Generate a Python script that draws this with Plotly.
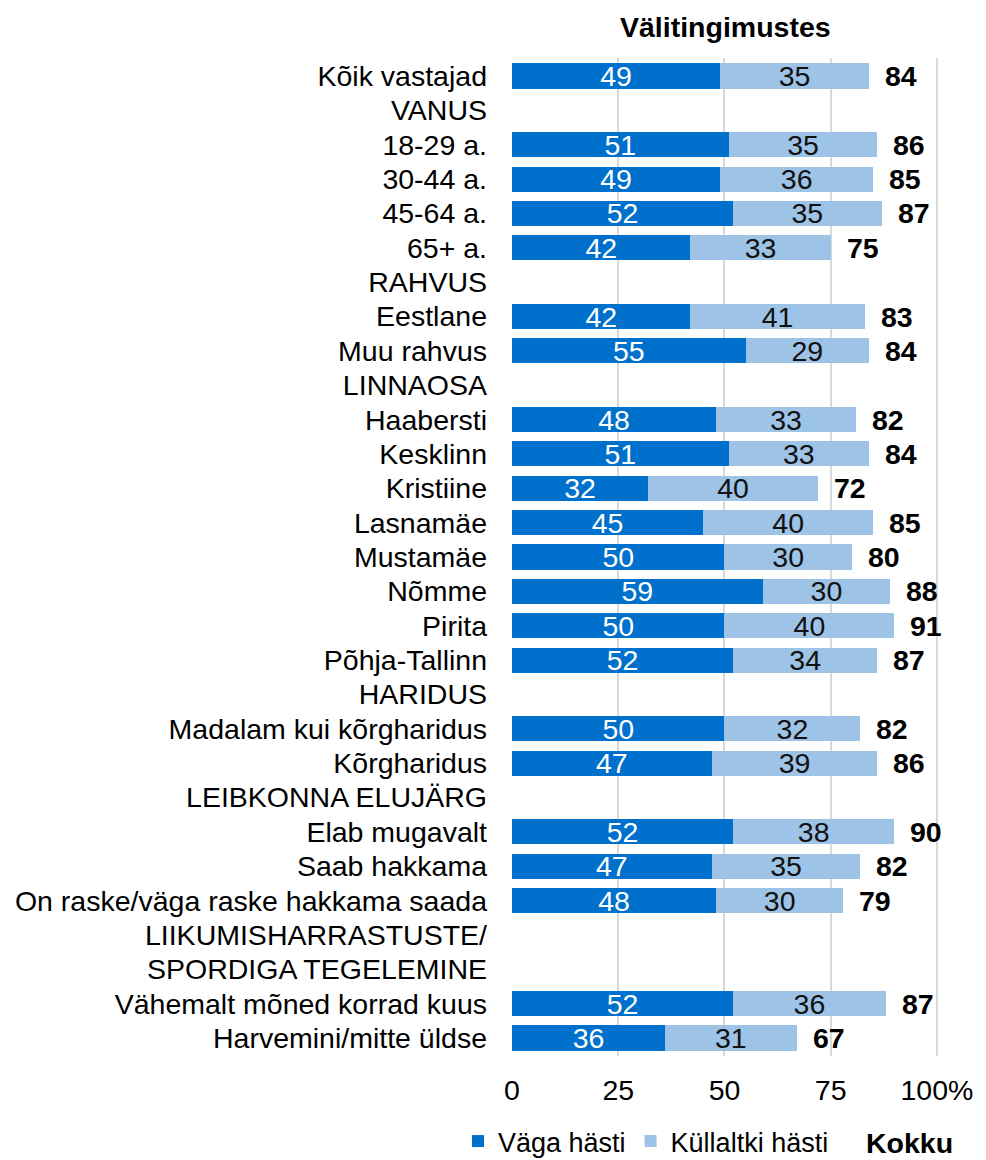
import plotly.graph_objects as go

categories = [
    "Kõik vastajad", "VANUS", "18-29 a.", "30-44 a.", "45-64 a.", "65+ a.",
    "RAHVUS", "Eestlane", "Muu rahvus",
    "LINNAOSA", "Haabersti", "Kesklinn", "Kristiine", "Lasnamäe", "Mustamäe",
    "Nõmme", "Pirita", "Põhja-Tallinn",
    "HARIDUS", "Madalam kui kõrgharidus", "Kõrgharidus",
    "LEIBKONNA ELUJÄRG", "Elab mugavalt", "Saab hakkama",
    "On raske/väga raske hakkama saada",
    "LIIKUMISHARRASTUSTE/", "SPORDIGA TEGELEMINE",
    "Vähemalt mõned korrad kuus", "Harvemini/mitte üldse",
]
vaga_hasti = [49, None, 51, 49, 52, 42, None, 42, 55, None, 48, 51, 32, 45, 50,
              59, 50, 52, None, 50, 47, None, 52, 47, 48, None, None, 52, 36]
kullaltki_hasti = [35, None, 35, 36, 35, 33, None, 41, 29, None, 33, 33, 40, 40, 30,
                   30, 40, 34, None, 32, 39, None, 38, 35, 30, None, None, 36, 31]
kokku = [84, None, 86, 85, 87, 75, None, 83, 84, None, 82, 84, 72, 85, 80,
         88, 91, 87, None, 82, 86, None, 90, 82, 79, None, None, 87, 67]

tick_vals = [0, 25, 50, 75, 100]
tick_text = ["0", "25", "50", "75", "100%"]

DARK = "#0070CD"
LIGHT = "#9DC3E6"
FONT = "Liberation Sans, Arial, sans-serif"
FS = 28.5
LFS = 27

# page body has an 8px margin, so the figure is 8px smaller than the window
OFF = 8
W, H = 986 - OFF, 1160 - OFF
ML, MR, MT, MB = 512 - OFF, 48, 58 - OFF, 104
PW = W - ML - MR
PH = H - MT - MB

fig = go.Figure()
fig.add_trace(go.Bar(
    y=categories, x=vaga_hasti, orientation="h", name="Väga hästi",
    marker=dict(color=DARK, line=dict(width=0)),
    text=[("" if v is None else str(v)) for v in vaga_hasti],
    textposition="inside", insidetextanchor="middle", textangle=0,
    constraintext="none",
    textfont=dict(family=FONT, size=FS, color="white"),
    hoverinfo="skip",
))
fig.add_trace(go.Bar(
    y=categories, x=kullaltki_hasti, orientation="h", name="Küllaltki hästi",
    marker=dict(color=LIGHT, line=dict(width=0)),
    text=[("" if v is None else str(v)) for v in kullaltki_hasti],
    textposition="inside", insidetextanchor="middle", textangle=0,
    constraintext="none",
    textfont=dict(family=FONT, size=FS, color="#111111"),
    hoverinfo="skip",
))

for cat, d, l, t in zip(categories, vaga_hasti, kullaltki_hasti, kokku):
    if t is None:
        continue
    fig.add_annotation(
        x=d + l, y=cat, xref="x", yref="y", text=f"<b>{t}</b>",
        showarrow=False, xanchor="left", xshift=14,
        font=dict(family=FONT, size=FS, color="#000000"),
    )

fig.add_annotation(
    x=0.5, y=1, xref="paper", yref="paper", text="<b>Välitingimustes</b>",
    showarrow=False, xanchor="center", yanchor="bottom", yshift=13,
    font=dict(family=FONT, size=FS, color="#000000"),
)
fig.add_annotation(
    x=(864 - OFF - ML) / PW, y=-(1143 - OFF - (H - MB)) / PH, xref="paper", yref="paper",
    text="<b>Kokku</b>",
    showarrow=False, xanchor="left", yanchor="middle",
    font=dict(family=FONT, size=FS, color="#000000"),
)

fig.update_layout(
    width=W, height=H,
    margin=dict(l=ML, r=MR, t=MT, b=MB, autoexpand=False),
    barmode="stack", bargap=0.27,
    plot_bgcolor="white", paper_bgcolor="white",
    font=dict(family=FONT, size=FS, color="#000000"),
    showlegend=True,
    legend=dict(
        orientation="h", xref="container", x=(458 - OFF) / W, xanchor="left",
        yref="container", y=1 - (1117 - OFF) / H, yanchor="top",
        font=dict(family=FONT, size=LFS, color="#000000"),
        traceorder="normal", itemwidth=30,
        bgcolor="rgba(0,0,0,0)",
    ),
    xaxis=dict(
        range=[0, 100.25], tickvals=tick_vals, ticktext=tick_text,
        showgrid=True, gridcolor="#D9D9D9", gridwidth=2,
        zeroline=False, showline=False, ticks="",
        ticklabelstandoff=14, automargin=False,
        tickfont=dict(family=FONT, size=FS, color="#000000"),
        fixedrange=True,
    ),
    yaxis=dict(
        type="category", autorange="reversed",
        showgrid=False, zeroline=False, showline=False, ticks="",
        ticklabelstandoff=24, automargin=False,
        tickfont=dict(family=FONT, size=FS, color="#000000"),
        fixedrange=True,
    ),
)

fig.write_html("out.html")
